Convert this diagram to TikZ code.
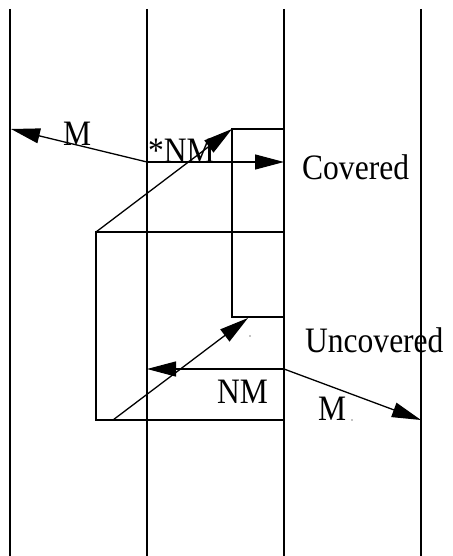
\documentclass[tikz,border=0pt]{standalone}
\usepackage{fontspec}
\setmainfont{Liberation Serif}
\usetikzlibrary{arrows.meta}
\newcommand{\tallt}[1]{\scalebox{0.97}[1.1]{#1}}
\begin{document}
\begin{tikzpicture}[x=1pt,y=-1pt,
  ln/.style={line width=1.3pt,black},
  arr/.style={ln,-{Triangle[length=29pt,width=15pt]}},
  lbl/.style={anchor=base west,inner sep=0pt,font=\fontsize{32.5}{36}\selectfont}]
\useasboundingbox (0,0) rectangle (452,556);
% vertical lines
\foreach \x/\n in {10/a,147/b,284/c,421/d}{
  \coordinate (\n top) at (\x,9);
  \coordinate (\n bot) at (\x,556);
  \draw[ln] (\n top) -- (\n bot);
}
% key points
\coordinate (p1) at (147,162);
\coordinate (p1l) at (11,129);
\coordinate (p1r) at (284,162);
\coordinate (s1) at (232,129);
\coordinate (s2) at (284,317);
\coordinate (b1) at (96,232);
\coordinate (b2) at (284,420);
\coordinate (d1) at (113,420);
\coordinate (d2) at (248,318);
\coordinate (q1) at (284,369);
\coordinate (q1l) at (147,369);
\coordinate (q1r) at (421,420);
% rectangles
\draw[ln] (s1) rectangle (s2);
\draw[ln] (b1) rectangle (b2);
% arrows
\draw[arr] (p1) -- (p1l);
\draw[arr] (p1) -- (p1r);
\draw[arr] (b1) -- (s1);
\draw[arr] (d1) -- (d2);
\draw[arr] (q1) -- (q1l);
\draw[arr] (q1) -- (q1r);
% labels
\node[lbl] (lM1) at (63,146) {\tallt{M}};
\node[lbl] (lNM1) at (148,162) {\tallt{*NM}};
\node[lbl] (lcov) at (302,179) {\tallt{Covered}};
\node[lbl] (lunc) at (305,352) {\tallt{Uncovered}};
\node[lbl] (lNM2) at (217,403) {\tallt{NM}};
\node[lbl] (lM2) at (318,420) {\tallt{M}};
\fill (250,336) circle (0.6);
\fill (352,420) circle (0.6);
\end{tikzpicture}
\end{document}
